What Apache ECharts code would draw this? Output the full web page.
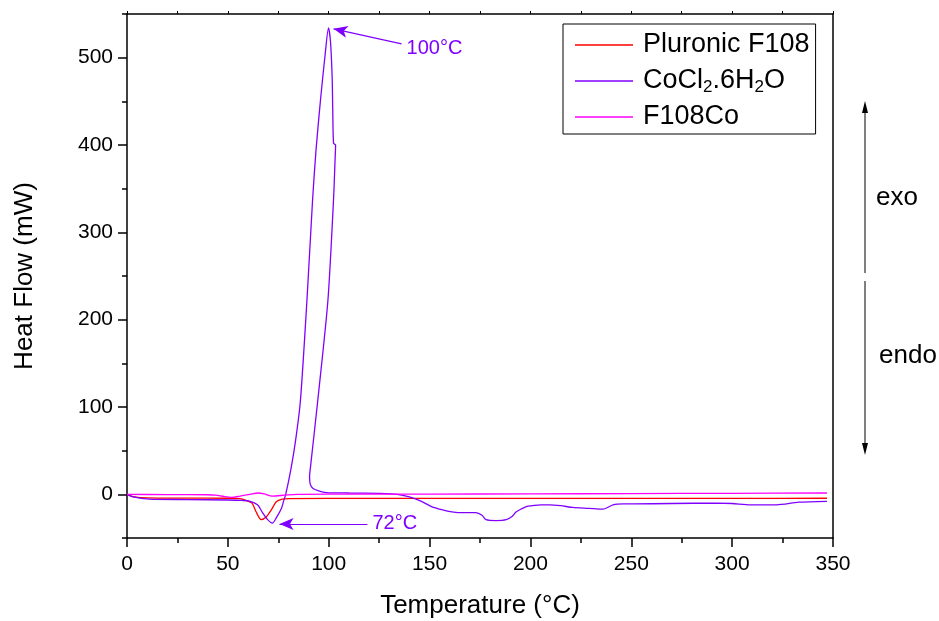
<!DOCTYPE html>
<html>
<head>
<meta charset="utf-8">
<title>DSC</title>
<script src="https://cdn.jsdelivr.net/npm/echarts@6/dist/echarts.min.js"></script>
<style>
  html, body { margin: 0; padding: 0; background: #fff; }
  #chart { width: 939px; height: 621px; }
</style>
</head>
<body>
<div id="chart"></div>
<script>
// 系列名称
const seriesNames = ['Pluronic F108', 'CoCl2.6H2O', 'F108Co']

// Pluronic F108 (红)
const tempF108 = [0, 3, 10, 30, 50, 56, 59, 62, 64, 66.5, 69, 71.5, 74, 77, 80, 120, 200, 300, 347]
const flowF108 = [0, -2.5, -4, -4.3, -4.5, -5, -7, -10, -20, -29, -26, -18, -8.5, -5.5, -4.8, -4.7, -4.6, -4.6, -4.5]

// CoCl2.6H2O (紫) —— 回环曲线，按记录顺序
const tempCo = [0, 3, 11, 30, 50, 57, 60.7, 64.7, 67.2, 69.7, 72.1, 74, 76.6, 77.6,
  78.6, 81.2, 83.6, 86.0, 89.2, 92.0, 93.7, 95.9, 98.2, 99.9,
  100.9, 101.7, 102.0, 102.4, 103.4, 103.1, 102.4, 99.6, 94.6, 91, 90.5, 90.8, 92.1, 95, 98.8, 110, 125,
  134, 140, 146, 151, 156, 161, 167, 173, 176, 178, 183, 188, 191, 193, 198, 201, 205, 209.5, 215, 221, 229, 236, 241, 246, 251,
  270, 292, 300, 309, 322, 333, 347]
const flowCo = [0, -3, -5.5, -6, -6.5, -7, -7.7, -12, -21, -29, -33, -27, -16, -8,
  -0.8, 28, 62, 108, 222, 337, 394, 451, 503, 534,
  518, 478, 440, 402, 400, 380, 338, 222, 108, 32, 20, 12, 7, 4, 2, 1.5, 1,
  0, -3, -8, -14, -17.5, -20, -21, -21, -24, -29, -30, -29, -25, -20, -14, -13, -12, -12, -13, -15, -16, -17, -12, -11, -11,
  -10.5, -10, -10.5, -12, -12, -9, -8]

// F108Co (品红)
const tempF108Co = [0, 20, 40, 44, 48, 52, 56, 61, 65, 68, 72, 78, 84, 100, 150, 200, 250, 300, 347]
const flowF108Co = [0, -0.3, -0.5, -1, -2.5, -3.5, -2, 0, 1.5, 0.5, -2, -1, 0, 0.3, 0.3, 0.5, 0.8, 1.2, 1.5]

// 刻度
const yTicks = [0, 100, 200, 300, 400, 500]
const yMinorTicks = [-50, 50, 150, 250, 350, 450, 550]

// 标注 (峰值)
const peakNotes = [
  { text: '100°C', from: [136.1, 515.8], to: [102.4, 533], label: [137.1, 510.4] },
  { text: '72°C', from: [119.2, -34], to: [75.6, -34], label: [120.2, -33] },
]

const zip = (xs, ys) => xs.map((x, i) => [x, ys[i]])

const colors = ['#ff0000', '#8000ff', '#ff00ff']
const font = 'Liberation Sans, Arial, sans-serif'

const chart = echarts.init(document.getElementById('chart'))

const lineSeries = (name, data, color, extra) => Object.assign({
  name,
  type: 'line',
  data,
  showSymbol: false,
  symbol: 'none',
  smooth: 0.25,
  color,
  lineStyle: { color, width: 1.3 },
  itemStyle: { color },
  emphasis: { disabled: true },
  xAxisIndex: 0,
  yAxisIndex: 0,
}, extra)

const option = {
  animation: false,
  textStyle: { fontFamily: font },
  grid: { left: 127, right: 106, top: 14, bottom: 83, outerBoundsMode: 'none', containLabel: false },
  legend: {
    data: seriesNames,
    orient: 'vertical',
    left: 563,
    top: 24,
    padding: [6, 6, 2, 12],
    itemGap: 6,
    itemWidth: 58,
    itemHeight: 1.5,
    icon: 'rect',
    borderColor: '#000',
    borderWidth: 1,
    backgroundColor: '#fff',
    formatter: (name) => name === 'CoCl2.6H2O' ? 'CoCl{s|2}.6H{s|2}O' : name,
    textStyle: {
      fontFamily: font,
      fontSize: 27,
      color: '#000',
      lineHeight: 30,
      padding: [0, 0, 0, 5],
      rich: {
        s: { fontSize: 17, fontFamily: font, color: '#000', verticalAlign: 'bottom', lineHeight: 17 },
      },
    },
  },
  xAxis: [
    {
      type: 'value',
      position: 'bottom',
      min: 0,
      max: 350,
      interval: 50,
      name: 'Temperature (°C)',
      nameLocation: 'middle',
      nameGap: 55,
      nameTextStyle: { fontSize: 26, color: '#000', fontFamily: font },
      axisLine: { show: true, onZero: false, lineStyle: { color: '#000', width: 1.5 } },
      axisTick: { show: true, inside: false, length: 9, lineStyle: { color: '#000', width: 1.5 } },
      minorTick: { show: true, splitNumber: 2, length: 5, lineStyle: { color: '#000', width: 1.5 } },
      axisLabel: { fontSize: 21, color: '#000', margin: 16, fontFamily: font },
      splitLine: { show: false },
    },
    {
      type: 'value',
      position: 'top',
      min: 0,
      max: 350,
      interval: 25,
      axisLine: { show: true, onZero: false, lineStyle: { color: '#000', width: 1.5 } },
      axisTick: { show: true, inside: false, length: 3, lineStyle: { color: '#000', width: 1 } },
      axisLabel: { show: false },
      splitLine: { show: false },
    },
  ],
  yAxis: [
    {
      type: 'value',
      position: 'left',
      min: -50,
      max: 550,
      name: 'Heat Flow (mW)',
      nameLocation: 'middle',
      nameGap: 89,
      nameTextStyle: { fontSize: 26, color: '#000', fontFamily: font },
      axisLine: { show: true, onZero: false, lineStyle: { color: '#000', width: 1.5 } },
      axisTick: { show: true, inside: false, length: 9, customValues: yTicks, lineStyle: { color: '#000', width: 1.5 } },
      axisLabel: { fontSize: 21, color: '#000', margin: 14, customValues: yTicks, fontFamily: font },
      splitLine: { show: false },
    },
    {
      type: 'value',
      position: 'left',
      min: -50,
      max: 550,
      axisLine: { show: false },
      axisTick: { show: true, inside: false, length: 5, customValues: yMinorTicks, lineStyle: { color: '#000', width: 1.5 } },
      axisLabel: { show: false },
      splitLine: { show: false },
    },
    {
      type: 'value',
      position: 'right',
      min: -50,
      max: 550,
      axisLine: { show: true, onZero: false, lineStyle: { color: '#000', width: 1.5 } },
      axisTick: { show: false },
      axisLabel: { show: false },
      splitLine: { show: false },
    },
  ],
  series: [
    lineSeries(seriesNames[0], zip(tempF108, flowF108), colors[0]),
    lineSeries(seriesNames[1], zip(tempCo, flowCo), colors[1], {
      markLine: {
        silent: true,
        symbol: ['none', 'arrow'],
        symbolSize: [9, 14],
        label: { show: false },
        lineStyle: { color: colors[1], width: 1.2, type: 'solid' },
        data: peakNotes.map(n => [{ coord: n.from }, { coord: n.to }]),
      },
      markPoint: {
        silent: true,
        symbol: 'circle',
        symbolSize: 0,
        label: {
          show: true,
          position: 'right',
          distance: 3,
          formatter: '{b}',
          color: colors[1],
          fontSize: 20,
          fontFamily: font,
        },
        data: peakNotes.map(n => ({ name: n.text, coord: n.label })),
      },
    }),
    lineSeries(seriesNames[2], zip(tempF108Co, flowF108Co), colors[2]),
  ],
  // exo / endo 方向箭头 (图外注释)
  graphic: [
    { type: 'line', shape: { x1: 865, y1: 273, x2: 865, y2: 108 }, style: { stroke: '#000', lineWidth: 1 } },
    { type: 'polygon', shape: { points: [[865, 101], [862, 113], [868, 113]] }, style: { fill: '#000' } },
    { type: 'line', shape: { x1: 865, y1: 281, x2: 865, y2: 448 }, style: { stroke: '#000', lineWidth: 1 } },
    { type: 'polygon', shape: { points: [[865, 455], [862, 443], [868, 443]] }, style: { fill: '#000' } },
    { type: 'text', left: 876, top: 185, style: { text: 'exo', fontSize: 26, fontFamily: font, fill: '#000' } },
    { type: 'text', left: 879, top: 343, style: { text: 'endo', fontSize: 26, fontFamily: font, fill: '#000' } },
  ],
}

chart.setOption(option)
</script>
</body>
</html>
